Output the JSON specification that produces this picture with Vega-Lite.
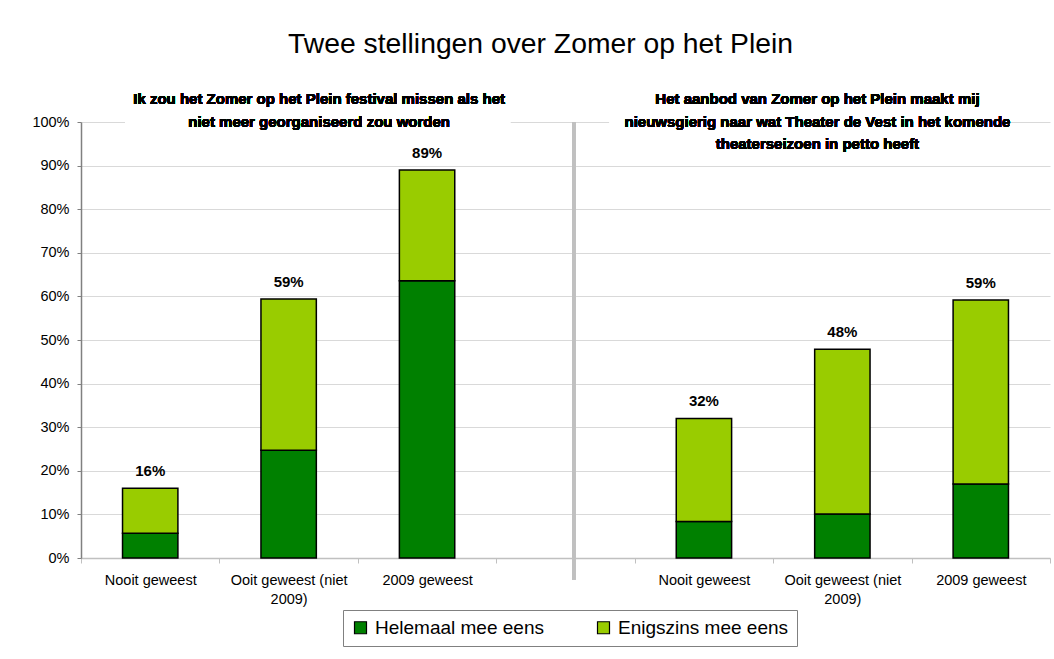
{
  "$schema": "https://vega.github.io/schema/vega-lite/v6.json",
  "width": 969,
  "height": 436,
  "autosize": {"type": "none"},
  "padding": {"left": 81, "top": 122, "right": 4, "bottom": 101},
  "background": "white",
  "config": {
    "view": {"stroke": null},
    "font": "Liberation Sans",
    "axis": {"labelFont": "Liberation Sans", "labelColor": "#000000"},
    "legend": {"labelFont": "Liberation Sans"}
  },
  "title": {
    "text": "Twee stellingen over Zomer op het Plein",
    "fontSize": 28.3,
    "fontWeight": "normal",
    "font": "Liberation Sans",
    "color": "#000000",
    "anchor": "middle",
    "frame": "group",
    "baseline": "alphabetic",
    "offset": 11,
    "dx": -25
  },
  "data": {
    "values": [
      {"cat": "L1", "serie": "Helemaal mee eens", "value": 0.057},
      {"cat": "L1", "serie": "Enigszins mee eens", "value": 0.103},
      {"cat": "L2", "serie": "Helemaal mee eens", "value": 0.247},
      {"cat": "L2", "serie": "Enigszins mee eens", "value": 0.347},
      {"cat": "L3", "serie": "Helemaal mee eens", "value": 0.636},
      {"cat": "L3", "serie": "Enigszins mee eens", "value": 0.254},
      {"cat": "R1", "serie": "Helemaal mee eens", "value": 0.084},
      {"cat": "R1", "serie": "Enigszins mee eens", "value": 0.236},
      {"cat": "R2", "serie": "Helemaal mee eens", "value": 0.101},
      {"cat": "R2", "serie": "Enigszins mee eens", "value": 0.378},
      {"cat": "R3", "serie": "Helemaal mee eens", "value": 0.170},
      {"cat": "R3", "serie": "Enigszins mee eens", "value": 0.422}
    ]
  },
  "encoding": {
    "x": {
      "field": "cat",
      "type": "nominal",
      "scale": {"domain": ["L1", "L2", "L3", "gap", "R1", "R2", "R3"], "paddingInner": 0, "paddingOuter": 0},
      "axis": {
        "title": null,
        "labelAngle": 0,
        "labelFontSize": 14.5,
        "labelPadding": 10,
        "labelLineHeight": 19,
        "labelBaseline": "top",
        "tickBand": "extent",
        "tickSize": 5,
        "tickColor": "#c0c0c0",
        "domainColor": "#c0c0c0",
        "domainWidth": 1.5,
        "grid": false,
        "labelExpr": "datum.value == 'L1' || datum.value == 'R1' ? 'Nooit geweest' : (datum.value == 'L2' || datum.value == 'R2' ? ['Ooit geweest (niet', '2009)'] : (datum.value == 'L3' || datum.value == 'R3' ? '2009 geweest' : ''))"
      }
    }
  },
  "layer": [
    {
      "mark": {"type": "bar", "width": {"band": 0.4}, "stroke": "#000000", "strokeWidth": 1.5},
      "encoding": {
        "y": {
          "field": "value",
          "type": "quantitative",
          "stack": "zero",
          "scale": {"domain": [0, 1], "nice": false},
          "axis": {
            "title": null,
            "values": [0, 0.1, 0.2, 0.3, 0.4, 0.5, 0.6, 0.7, 0.8, 0.9, 1],
            "format": ".0%",
            "labelFontSize": 14.5,
            "labelPadding": 8,
            "tickSize": 4,
            "tickColor": "#808080",
            "domainColor": "#808080",
            "domainWidth": 1.5,
            "gridColor": "#d9d9d9",
            "gridWidth": 1.2
          }
        },
        "color": {
          "field": "serie",
          "type": "nominal",
          "scale": {"domain": ["Helemaal mee eens", "Enigszins mee eens"], "range": ["#008000", "#99cc00"]},
          "legend": {
            "title": null,
            "orient": "none",
            "legendX": 262,
            "legendY": 488,
            "direction": "horizontal",
            "labelFontSize": 19,
            "labelLimit": 400,
            "labelColor": "#000000",
            "symbolType": "square",
            "symbolSize": 144,
            "symbolStrokeColor": "#000000",
            "symbolStrokeWidth": 1.2,
            "labelOffset": 5,
            "columnPadding": 50,
            "padding": 8,
            "strokeColor": "#808080",
            "fillColor": "#ffffff"
          }
        },
        "order": {"field": "serie", "sort": "descending"}
      }
    },
    {
      "transform": [{"aggregate": [{"op": "sum", "field": "value", "as": "total"}], "groupby": ["cat"]}],
      "mark": {"type": "text", "fontSize": 15, "fontWeight": "bold", "baseline": "alphabetic", "dy": -12, "color": "#000000"},
      "encoding": {
        "y": {"field": "total", "type": "quantitative"},
        "text": {"field": "total", "type": "quantitative", "format": ".0%"}
      }
    },
    {
      "mark": {"type": "rule", "color": "#c0c0c0", "strokeWidth": 3},
      "encoding": {
        "x": {"datum": "gap", "bandPosition": 0.56},
        "y": {"datum": 1},
        "y2": {"datum": -0.05}
      }
    },
    {
      "mark": {"type": "rect", "color": "#ffffff"},
      "encoding": {
        "x": {"datum": "L1", "bandPosition": 0.32},
        "x2": {"datum": "gap", "bandPosition": 0.1},
        "y": {"datum": 0.99},
        "y2": {"datum": 1.01}
      }
    },
    {
      "mark": {"type": "rect", "color": "#ffffff"},
      "encoding": {
        "x": {"datum": "gap", "bandPosition": 0.82},
        "x2": {"datum": "R3", "bandPosition": 0.7},
        "y": {"datum": 0.99},
        "y2": {"datum": 1.01}
      }
    },
    {
      "mark": {"type": "text", "fontSize": 15, "fontWeight": "bold", "align": "center", "baseline": "alphabetic", "lineHeight": 22.5, "color": "#000000",
        "text": ["Ik zou het Zomer op het Plein festival missen als het", "niet meer georganiseerd zou worden"]},
      "encoding": {
        "x": {"datum": "L2", "bandPosition": 0.72},
        "y": {"datum": 1.041}
      }
    },
    {
      "mark": {"type": "text", "fontSize": 15, "fontWeight": "bold", "align": "center", "baseline": "alphabetic", "lineHeight": 22.5, "color": "#000000",
        "text": ["Het aanbod van Zomer op het Plein maakt mij", "nieuwsgierig naar wat Theater de Vest in het komende", "theaterseizoen in petto heeft"]},
      "encoding": {
        "x": {"datum": "R2", "bandPosition": 0.32},
        "y": {"datum": 1.041}
      }
    }
  ]
}
